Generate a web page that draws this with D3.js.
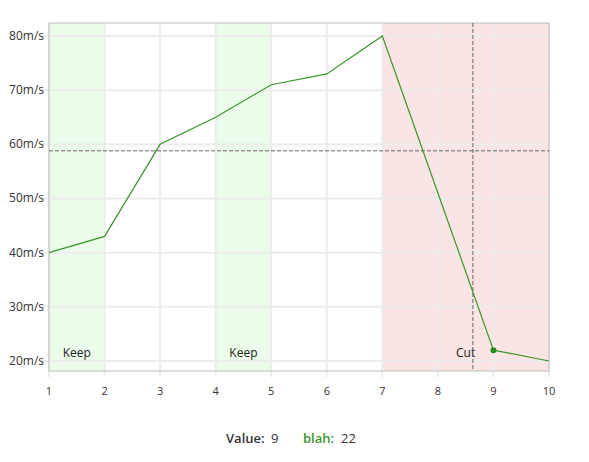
<!DOCTYPE html>
<html>
<head>
<meta charset="utf-8">
<script src="https://cdn.jsdelivr.net/npm/d3@7"></script>
<style>
  body{margin:0;background:#fff;font-family:"Open Sans","Noto Sans",sans-serif;}
  svg text{font-family:"Open Sans","Noto Sans",sans-serif;}
</style>
</head>
<body>
<div id="chart"></div>
<script>
const xs = [1,2,3,4,5,6,7,8,9,10];
const speeds = [40,43,60,65,71,73,80,51,22,20];
const yTicks = [20,30,40,50,60,70,80];
const bands = [
  {from:1,to:2,label:"Keep",kind:"keep"},
  {from:4,to:5,label:"Keep",kind:"keep"},
  {from:7,to:10,label:"Cut",kind:"cut"}
];
const cursorX = 8.63, cursorY = 58.8;
const hoverIdx = 8;

const W = 589, H = 462;
const m = {l:49, r:40, t:23, b:91};
const svg = d3.select("#chart").append("svg")
  .attr("width",W).attr("height",H);

const x = d3.scaleLinear().domain([1,10]).range([m.l, W-m.r]);
const y = d3.scaleLinear().domain([18.15,82.4]).range([H-m.b, m.t]);

const bandFill = {keep:"#ebfdea", cut:"#fbe4e4"};

svg.selectAll("rect.band")
  .data(bands).enter().append("rect")
  .attr("class","band")
  .attr("x",d=>x(d.from)).attr("width",d=>x(d.to)-x(d.from))
  .attr("y",m.t).attr("height",H-m.b-m.t)
  .attr("fill",d=>bandFill[d.kind]);

// grid
svg.append("g").selectAll("line")
  .data(yTicks).enter().append("line")
  .attr("x1",m.l-9).attr("x2",W-m.r)
  .attr("y1",d=>y(d)).attr("y2",d=>y(d))
  .attr("stroke","#ececec").attr("stroke-width",2);
svg.append("g").selectAll("line")
  .data(xs).enter().append("line")
  .attr("x1",d=>x(d)).attr("x2",d=>x(d))
  .attr("y1",m.t).attr("y2",H-m.b+6)
  .attr("stroke","#ececec").attr("stroke-width",2);

// border
svg.append("rect")
  .attr("x",m.l).attr("y",m.t)
  .attr("width",W-m.r-m.l).attr("height",H-m.b-m.t)
  .attr("fill","none").attr("stroke","#bdbdbd").attr("stroke-width",1);

// band labels
svg.selectAll("text.blabel")
  .data(bands).enter().append("text")
  .attr("x",d=>(x(d.from)+x(d.to))/2)
  .attr("y",y(20)-4)
  .attr("text-anchor","middle")
  .attr("font-size",12).attr("fill","#222")
  .text(d=>d.label);

// axis labels
svg.selectAll("text.ylab")
  .data(yTicks).enter().append("text")
  .attr("x",m.l-5).attr("y",d=>y(d)+4)
  .attr("text-anchor","end").attr("font-size",12).attr("fill","#333")
  .text(d=>d+"m/s");
svg.selectAll("text.xlab")
  .data(xs).enter().append("text")
  .attr("x",d=>x(d)).attr("y",H-m.b+24)
  .attr("text-anchor","middle").attr("font-size",11).attr("fill","#333")
  .text(d=>d);

// crosshair
svg.append("line")
  .attr("x1",m.l).attr("x2",W-m.r)
  .attr("y1",y(cursorY)).attr("y2",y(cursorY))
  .attr("stroke","#666").attr("stroke-dasharray","4,2");
svg.append("line")
  .attr("x1",x(cursorX)).attr("x2",x(cursorX))
  .attr("y1",m.t).attr("y2",H-m.b)
  .attr("stroke","#666").attr("stroke-dasharray","4,2");

// line
const pts = xs.map((d,i)=>[d,speeds[i]]);
svg.append("path")
  .datum(pts)
  .attr("fill","none").attr("stroke","#3a962c").attr("stroke-width",1.2)
  .attr("d",d3.line().x(d=>x(d[0])).y(d=>y(d[1])));
svg.append("circle")
  .attr("cx",x(xs[hoverIdx])).attr("cy",y(speeds[hoverIdx]))
  .attr("r",3).attr("fill","#2a8a22");

// legend
const lg = svg.append("text").attr("y",443).attr("font-size",13);
lg.append("tspan").attr("x",226).attr("font-weight","600").attr("fill","#333").text("Value:");
lg.append("tspan").attr("x",271).attr("fill","#333").text(xs[hoverIdx]);
lg.append("tspan").attr("x",303).attr("font-weight","600").attr("fill","#3a962c").text("blah:");
lg.append("tspan").attr("x",341).attr("fill","#333").text(speeds[hoverIdx]);
</script>
</body>
</html>
